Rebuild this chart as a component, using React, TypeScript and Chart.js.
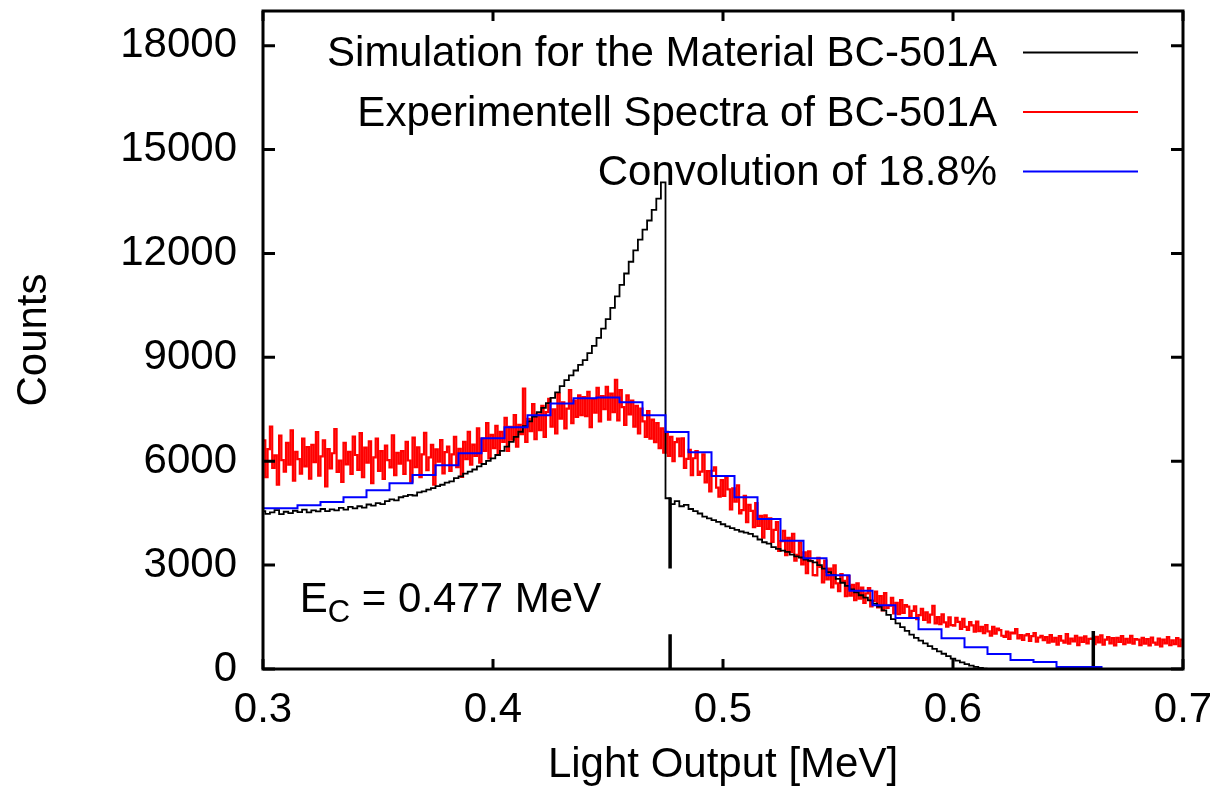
import React, { useEffect, useRef } from 'react';
import { Chart, registerables } from 'chart.js';

Chart.register(...registerables);

const FONT = '"Liberation Sans", Arial, Helvetica, sans-serif';

// Axis definition
const xTicks = [0.3, 0.4, 0.5, 0.6, 0.7];
const yTicks = [0, 3000, 6000, 9000, 12000, 15000, 18000];
const xMin = 0.3;
const xMax = 0.7;
const yMin = 0;
const yMax = 19000;
const xTitle = 'Light Output [MeV]';
const yTitle = 'Counts';

// Legend
const seriesLabels = [
  'Simulation for the Material BC-501A',
  'Experimentell Spectra of BC-501A',
  'Convolution of 18.8%',
];
const seriesColors = ['#000000', '#ff0000', '#0000ff'];

// Simulation histogram (bin left edges start at simStart, width simBinWidth)
const simStart = 0.299;
const simBinWidth = 0.002;
const simCounts = [
  4560, 4480, 4520, 4590, 4470, 4540, 4500, 4570, 4530, 4600, 4520, 4580, 4550, 4620, 4560, 4610, 4580, 4650, 4600, 4680,
  4640, 4700, 4660, 4750, 4720, 4790, 4760, 4850, 4900, 4870, 4960, 4990, 5030, 5010, 5100, 5130, 5180, 5220, 5280, 5320,
  5380, 5420, 5510, 5560, 5640, 5700, 5760, 5850, 5920, 6010, 6080, 6180, 6300, 6420, 6560, 6700, 6850, 7010, 7150, 7290,
  7420, 7540, 7680, 7830, 7990, 8170, 8340, 8480, 8620, 8780, 8920, 9120, 9330, 9560, 9830, 10100, 10430, 10760, 11090, 11420,
  11760, 12090, 12400, 12690, 12950, 13260, 13580, 14050,
  4930, 4760, 4850, 4700, 4740, 4620, 4560, 4490, 4400, 4350,
  4300, 4250, 4180, 4120, 4070, 4020, 3970, 3940, 3900, 3830,
  3740, 3660, 3620, 3520, 3470, 3420, 3380, 3300, 3250, 3220,
  3160, 3120, 3080, 3000, 2900, 2800, 2720, 2600, 2490, 2400,
  2300, 2210, 2130, 2060, 1980, 1890, 1800, 1690, 1560, 1440,
  1320, 1210, 1100, 990, 900, 820, 740, 660, 580, 510,
  440, 370, 300, 240, 190, 140, 100, 60, 30, 10,
];

// Experimental spectrum
const expStart = 0.3;
const expBinWidth = 0.001;
const expCounts = [
  6600, 5540, 6350, 7000, 5810, 6170, 5320, 6740, 6030, 5700, 6530, 5900, 6890, 5440, 6270, 6060, 5640, 6650, 5850, 6410,
  5500, 6470, 5970, 6840, 5580, 6140, 6600, 5270, 6350, 5790, 6230, 6930, 5690, 6020, 5400, 6530, 5910, 6270, 5630, 6710,
  6180, 5750, 6810, 5540, 6390, 5960, 6570, 5370, 6110, 6650, 5720, 6290, 5490, 6450, 6030, 5820, 6750, 5600, 6240, 5930,
  6290, 5630, 6560, 6020, 5410, 6680, 5830, 6400, 5540, 6200, 6820, 5740, 6110, 6470, 5320, 6340, 5990, 6610, 5650, 6260,
  6420, 5720, 6200, 6700, 5830, 6360, 5550, 6560, 6060, 6850, 5900, 6480, 6150, 6950, 5960, 6650, 6300, 7100, 6080, 6760,
  6380, 7020, 6180, 6850, 6560, 7250, 6300, 6990, 6620, 7330, 6420, 7050, 6780, 8100, 6560, 7220, 6870, 7650, 6640, 7350,
  6900, 7600, 6700, 7420, 7800, 7000, 7500, 6800, 7950, 7230, 7700, 6950, 7520, 8050, 7100, 7750, 7280, 7900, 7330, 7850,
  7300, 8000, 6980, 7800, 7400, 8120, 7150, 7880, 7500, 8150, 7200, 7950, 7420, 8350, 7180, 8050, 7560, 7050, 7900, 7350,
  7750, 7000, 7600, 6800, 7520, 7150, 6700, 7450, 6650, 7200, 6550, 7100, 6380, 6950, 6250, 6850, 6150, 6700, 6000, 6550,
  6650, 6145, 6660, 5805, 6070, 6325, 5600, 6085, 6290, 5605, 5700, 6195, 5390, 5715, 5130, 5725, 5820, 5235, 4980, 5455,
  5000, 5522, 5184, 4606, 5218, 4830, 5302, 4494, 4586, 4998, 4240, 4742, 4564, 4096, 4788, 4130, 4422, 3794, 4436, 4048,
  4350, 3668, 4016, 4244, 3412, 3690, 3988, 3286, 3784, 3382, 3900, 3128, 3296, 3654, 3022, 3370, 2768, 3396, 3114, 2712,
  2700, 3208, 2946, 2504, 3132, 2590, 2898, 2356, 2994, 2472, 2250, 2738, 2546, 2104, 2682, 2120, 2428, 1986, 2474, 2032,
  2350, 1906, 2182, 2338, 1804, 1970, 2236, 1782, 2108, 1694, 2190, 1766, 1832, 2058, 1604, 1910, 1586, 1992, 1618, 1844,
  1800, 1513, 1676, 1809, 1442, 1555, 1738, 1421, 1634, 1347, 1570, 1823, 1316, 1499, 1292, 1575, 1348, 1221, 1494, 1267,
  1250, 1475, 1360, 1155, 1450, 1215, 1130, 1355, 1260, 1075, 1370, 1095, 1220, 1035, 1270, 1085, 960, 1215, 1020, 1165,
  1120, 960, 930, 1080, 870, 1050, 1030, 1150, 880, 980, 840, 970, 1010, 810, 950, 1040, 790, 910, 960, 830,
  920, 760, 980, 790, 900, 700, 950, 820, 760, 1010, 730, 880, 800, 960, 690, 910, 780, 940, 740, 870,
  880, 720, 930, 770, 970, 700, 850, 920, 740, 890, 680, 900, 780, 950, 720, 870, 760, 960, 730, 860,
  850, 690, 900, 730, 860, 680, 910, 760, 700, 880, 650, 850, 740, 920, 690, 830, 720, 890, 660, 850,
];

// Convolution (18.8 %)
const convStart = 0.295;
const convBinWidth = 0.01;
const convCounts = [
  4640, 4640, 4730, 4820, 4960, 5160, 5360, 5600, 5880, 6230,
  6660, 6980, 7330, 7670, 7820, 7840, 7700, 7330, 6840, 6260,
  5570, 4960, 4330, 3700, 3200, 2710, 2260, 1840, 1470, 1150,
  890, 630, 430, 260, 200, 60, 60,
];

// Vertical marker segments: [x, yFrom, yTo]
const markerSegments = [
  [0.477, 0, 1000],
  [0.477, 2900, 4950],
  [0.661, 0, 1100],
];

// Annotation
const annotationX = 0.316;
const annotationY = 1640;
const annotationMain = 'E';
const annotationSub = 'C';
const annotationRest = ' = 0.477 MeV';

function stepPoints(start: number, width: number, counts: number[]) {
  const pts = counts.map((c, i) => ({ x: +(start + i * width).toFixed(5), y: c }));
  pts.push({ x: +(start + counts.length * width).toFixed(5), y: counts[counts.length - 1] });
  return pts;
}

function markerPoints() {
  const pts: { x: number; y: number | null }[] = [];
  markerSegments.forEach((s, i) => {
    if (i > 0) pts.push({ x: s[0], y: null });
    pts.push({ x: s[0], y: s[1] });
    pts.push({ x: s[0], y: s[2] });
  });
  return pts;
}

const gnuplotPlugin = {
  id: 'gnuplotDecor',
  afterDatasetsDraw(chart: any) {
    const { ctx, chartArea: a, scales } = chart;
    const xs = scales.x;
    const ys = scales.y;
    ctx.save();
    ctx.strokeStyle = '#000';
    ctx.lineWidth = 3;
    ctx.lineCap = 'butt';
    ctx.beginPath();
    for (const v of xTicks) {
      const px = xs.getPixelForValue(v);
      ctx.moveTo(px, a.bottom);
      ctx.lineTo(px, a.bottom - 10);
      ctx.moveTo(px, a.top);
      ctx.lineTo(px, a.top + 10);
    }
    for (const v of yTicks) {
      const py = ys.getPixelForValue(v);
      ctx.moveTo(a.left, py);
      ctx.lineTo(a.left + 12, py);
      ctx.moveTo(a.right, py);
      ctx.lineTo(a.right - 12, py);
    }
    ctx.stroke();
    ctx.strokeRect(a.left, a.top, a.right - a.left, a.bottom - a.top);

    // Legend (gnuplot style: right-aligned text, then line sample)
    ctx.font = `42px ${FONT}`;
    ctx.fillStyle = '#000';
    ctx.textAlign = 'right';
    ctx.textBaseline = 'alphabetic';
    seriesLabels.forEach((label, i) => {
      const base = 66 + i * 59.5;
      ctx.fillText(label, 997, base);
      ctx.strokeStyle = seriesColors[i];
      ctx.lineWidth = 2;
      ctx.beginPath();
      ctx.moveTo(1023, base - 13.5);
      ctx.lineTo(1138, base - 13.5);
      ctx.stroke();
    });

    // Annotation E_C = 0.477 MeV
    const ax = xs.getPixelForValue(annotationX);
    const ay = ys.getPixelForValue(annotationY);
    ctx.textAlign = 'left';
    ctx.font = `42px ${FONT}`;
    ctx.fillText(annotationMain, ax, ay);
    let cx = ax + ctx.measureText(annotationMain).width;
    ctx.font = `31px ${FONT}`;
    ctx.fillText(annotationSub, cx, ay + 10);
    cx += ctx.measureText(annotationSub).width;
    ctx.font = `42px ${FONT}`;
    ctx.fillText(annotationRest, cx, ay);
    ctx.restore();
  },
};

export default function App() {
  const canvasRef = useRef<HTMLCanvasElement | null>(null);

  useEffect(() => {
    document.body.style.margin = '0';
    const canvas = canvasRef.current;
    if (!canvas) return;
    Chart.defaults.color = '#000';
    const chart = new Chart(canvas, {
      type: 'line',
      data: {
        datasets: [
          {
            label: seriesLabels[2],
            data: stepPoints(convStart, convBinWidth, convCounts),
            borderColor: seriesColors[2],
            borderWidth: 2,
            pointRadius: 0,
            stepped: true,
            fill: false,
            order: 0,
          },
          {
            label: 'markers',
            data: markerPoints() as any,
            borderColor: '#000',
            borderWidth: 3.5,
            pointRadius: 0,
            stepped: false,
            spanGaps: false,
            fill: false,
            order: 1,
          },
          {
            label: seriesLabels[0],
            data: stepPoints(simStart, simBinWidth, simCounts),
            borderColor: seriesColors[0],
            borderWidth: 1.8,
            pointRadius: 0,
            stepped: true,
            fill: false,
            order: 2,
          },
          {
            label: seriesLabels[1],
            data: stepPoints(expStart, expBinWidth, expCounts),
            borderColor: seriesColors[1],
            borderWidth: 2.2,
            pointRadius: 0,
            stepped: true,
            fill: false,
            order: 3,
          },
        ],
      },
      options: {
        responsive: false,
        animation: false,
        events: [],
        layout: { padding: { top: 11, right: 37, left: 0, bottom: 0 } },
        plugins: {
          legend: { display: false },
          tooltip: { enabled: false },
        },
        scales: {
          x: {
            type: 'linear',
            min: xMin,
            max: xMax,
            afterBuildTicks: (s: any) => {
              s.ticks = xTicks.map((v) => ({ value: v }));
            },
            afterFit: (s: any) => {
              s.height = 123;
              s.paddingLeft = 0;
              s.paddingRight = 0;
            },
            ticks: {
              font: { family: FONT, size: 42 },
              color: '#000',
              padding: 16,
              maxRotation: 0,
              autoSkip: false,
              callback: (v: any) => Number(v).toFixed(1),
            },
            grid: { display: false, drawTicks: false },
            border: { display: false },
            title: {
              display: true,
              text: xTitle,
              font: { family: FONT, size: 42 },
              color: '#000',
              padding: { top: 0, bottom: 1 },
            },
          },
          y: {
            type: 'linear',
            min: yMin,
            max: yMax,
            afterBuildTicks: (s: any) => {
              s.ticks = yTicks.map((v) => ({ value: v }));
            },
            afterFit: (s: any) => {
              s.width = 263;
              s.paddingTop = 0;
              s.paddingBottom = 0;
            },
            ticks: {
              font: { family: FONT, size: 42 },
              color: '#000',
              padding: 26,
              autoSkip: false,
              callback: (v: any) => String(v),
            },
            grid: { display: false, drawTicks: false },
            border: { display: false },
            title: {
              display: true,
              text: yTitle,
              font: { family: FONT, size: 42 },
              color: '#000',
              padding: { top: 9, bottom: 0 },
            },
          },
        },
      },
      plugins: [gnuplotPlugin],
    });
    return () => chart.destroy();
  }, []);

  return (
    <div style={{ width: 1220, height: 792, background: '#fff' }}>
      <canvas ref={canvasRef} width={1220} height={792} style={{ display: 'block' }} />
    </div>
  );
}
